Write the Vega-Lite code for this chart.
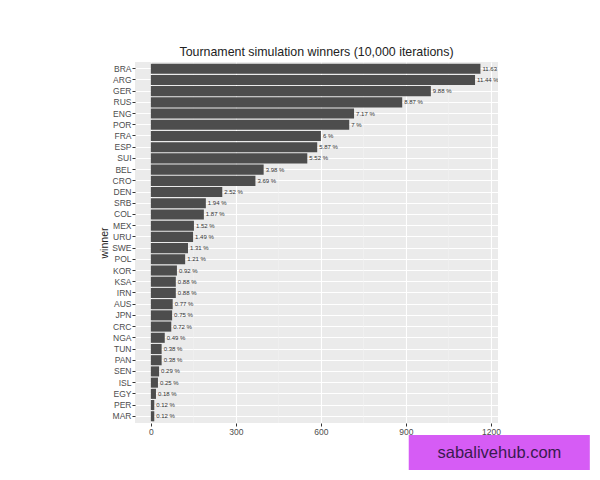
{
  "$schema": "https://vega.github.io/schema/vega-lite/v6.json",
  "autosize": "none",
  "padding": {"left": 135, "top": 62, "right": 102, "bottom": 57},
  "width": 363,
  "height": 361,
  "background": "white",
  "view": {"fill": "#ebebeb", "stroke": null},
  "title": {
    "text": "Tournament simulation winners (10,000 iterations)",
    "font": "Liberation Sans",
    "fontSize": 12.4,
    "fontWeight": "normal",
    "color": "#222222",
    "anchor": "middle",
    "offset": 3
  },
  "datasets": {
    "winners": [
      {"winner": "BRA", "count": 1163, "label": "11.63 %"},
      {"winner": "ARG", "count": 1144, "label": "11.44 %"},
      {"winner": "GER", "count": 988, "label": "9.88 %"},
      {"winner": "RUS", "count": 887, "label": "8.87 %"},
      {"winner": "ENG", "count": 717, "label": "7.17 %"},
      {"winner": "POR", "count": 700, "label": "7 %"},
      {"winner": "FRA", "count": 600, "label": "6 %"},
      {"winner": "ESP", "count": 587, "label": "5.87 %"},
      {"winner": "SUI", "count": 552, "label": "5.52 %"},
      {"winner": "BEL", "count": 398, "label": "3.98 %"},
      {"winner": "CRO", "count": 369, "label": "3.69 %"},
      {"winner": "DEN", "count": 252, "label": "2.52 %"},
      {"winner": "SRB", "count": 194, "label": "1.94 %"},
      {"winner": "COL", "count": 187, "label": "1.87 %"},
      {"winner": "MEX", "count": 152, "label": "1.52 %"},
      {"winner": "URU", "count": 149, "label": "1.49 %"},
      {"winner": "SWE", "count": 131, "label": "1.31 %"},
      {"winner": "POL", "count": 121, "label": "1.21 %"},
      {"winner": "KOR", "count": 92, "label": "0.92 %"},
      {"winner": "KSA", "count": 88, "label": "0.88 %"},
      {"winner": "IRN", "count": 88, "label": "0.88 %"},
      {"winner": "AUS", "count": 77, "label": "0.77 %"},
      {"winner": "JPN", "count": 75, "label": "0.75 %"},
      {"winner": "CRC", "count": 72, "label": "0.72 %"},
      {"winner": "NGA", "count": 49, "label": "0.49 %"},
      {"winner": "TUN", "count": 38, "label": "0.38 %"},
      {"winner": "PAN", "count": 38, "label": "0.38 %"},
      {"winner": "SEN", "count": 29, "label": "0.29 %"},
      {"winner": "ISL", "count": 25, "label": "0.25 %"},
      {"winner": "EGY", "count": 18, "label": "0.18 %"},
      {"winner": "PER", "count": 12, "label": "0.12 %"},
      {"winner": "MAR", "count": 12, "label": "0.12 %"}
    ]
  },
  "layer": [
    {
      "data": {"values": [{"v": 150}, {"v": 450}, {"v": 750}, {"v": 1050}]},
      "mark": {"type": "rule", "color": "#f4f4f4", "strokeWidth": 0.6},
      "encoding": {
        "x": {"field": "v", "type": "quantitative", "scale": {"domain": [-56, 1225], "nice": false}}
      }
    },
    {
      "data": {"name": "winners"},
      "encoding": {
        "x": {
          "field": "count",
          "type": "quantitative",
          "title": null,
          "scale": {"domain": [-56, 1225], "nice": false},
          "axis": {
            "values": [0, 300, 600, 900, 1200],
            "format": "d",
            "domain": false,
            "grid": true,
            "gridColor": "white",
            "gridWidth": 1.1,
            "tickColor": "#333333",
            "tickSize": 3,
            "labelColor": "#4d4d4d",
            "labelFont": "Liberation Sans",
            "labelFontSize": 8.5,
            "labelPadding": 1
          }
        },
        "y": {
          "field": "winner",
          "type": "nominal",
          "sort": null,
          "scale": {"paddingInner": 0.1, "paddingOuter": 0.15},
          "axis": {
            "domain": false,
            "grid": true,
            "gridColor": "white",
            "gridWidth": 1.1,
            "tickColor": "#333333",
            "tickSize": 3,
            "labelColor": "#4d4d4d",
            "labelFont": "Liberation Sans",
            "labelFontSize": 8.5,
            "labelPadding": 1,
            "title": "winner",
            "titleFont": "Liberation Sans",
            "titleFontSize": 10.5,
            "titleFontWeight": "normal",
            "titleColor": "#222222",
            "titlePadding": 2
          }
        }
      },
      "layer": [
        {"mark": {"type": "bar", "color": "#4d4d4d"}},
        {
          "mark": {
            "type": "text",
            "align": "left",
            "baseline": "middle",
            "dx": 2,
            "clip": true,
            "font": "Liberation Sans",
            "fontSize": 6,
            "color": "#333333"
          },
          "encoding": {"text": {"field": "label", "type": "nominal"}}
        }
      ]
    },
    {
      "data": {"values": [{"name": "sabalivehub.com", "x0": 910, "x1": 1549, "xm": 1230, "y0": -0.0332, "y1": -0.1302, "ym": -0.082}]},
      "layer": [
        {
          "mark": {"type": "rect", "color": "#d65cf5"},
          "encoding": {
            "x": {"field": "x0", "type": "quantitative", "scale": {"domain": [-56, 1225], "nice": false}},
            "x2": {"field": "x1"},
            "y": {"field": "y0", "type": "quantitative", "scale": {"domain": [0, 1]}, "axis": null},
            "y2": {"field": "y1"}
          }
        },
        {
          "mark": {"type": "text", "font": "Liberation Sans", "fontSize": 16.5, "color": "#3a1a50", "align": "center", "baseline": "middle"},
          "encoding": {
            "x": {"field": "xm", "type": "quantitative", "scale": {"domain": [-56, 1225], "nice": false}},
            "y": {"field": "ym", "type": "quantitative", "scale": {"domain": [0, 1]}, "axis": null},
            "text": {"field": "name", "type": "nominal"}
          }
        }
      ]
    }
  ],
  "resolve": {"scale": {"y": "independent"}}
}
